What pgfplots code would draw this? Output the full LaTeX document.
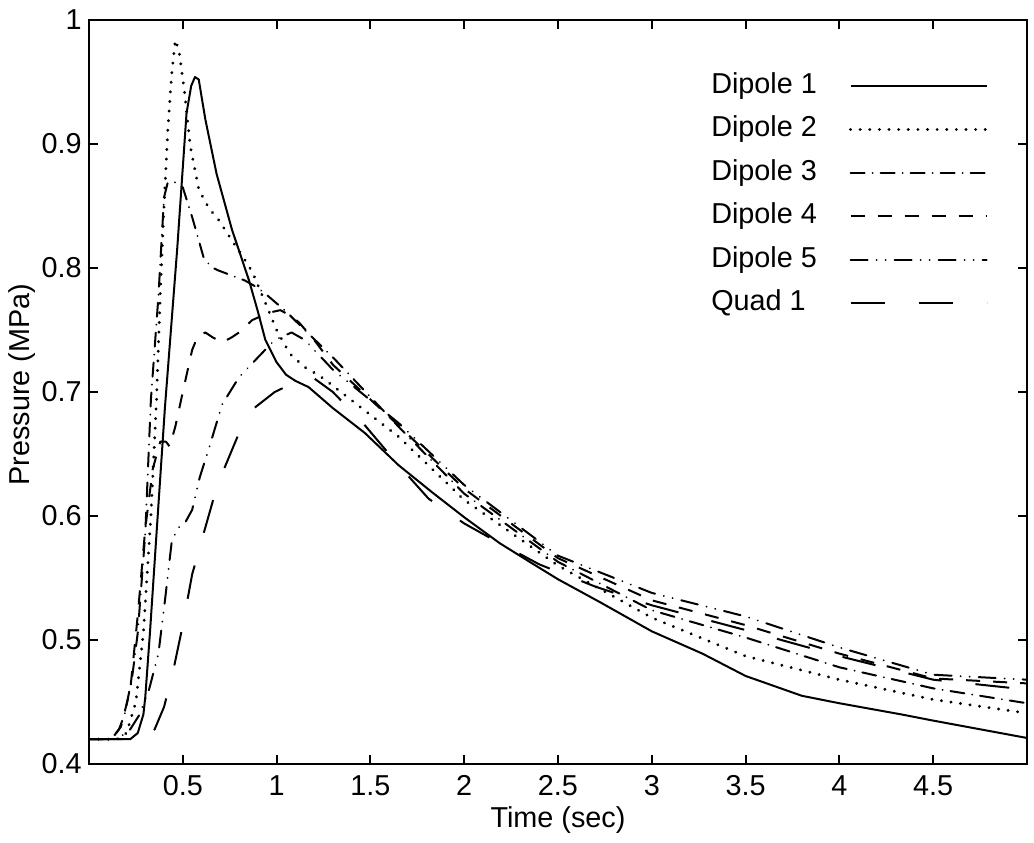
\documentclass[border=0pt]{standalone}
\usepackage{fontspec}
\setmainfont{Liberation Sans}
\usepackage{pgfplots}
\pgfplotsset{compat=1.18}
\begin{document}
\fontsize{14.4}{17}\selectfont
\begin{tikzpicture}
\begin{axis}[
  scale only axis, width=469pt, height=372pt,
  xmin=0, xmax=5, ymin=0.4, ymax=1,
  axis line style={line width=1pt},
  tick align=inside, major tick length=4.5pt,
  tick style={line width=1pt, black},
  tick pos=both,
  xtick={0.5,1,1.5,2,2.5,3,3.5,4,4.5},
  xticklabels={0.5,1,1.5,2,2.5,3,3.5,4,4.5},
  ytick={0.4,0.5,0.6,0.7,0.8,0.9,1},
  yticklabels={0.4,0.5,0.6,0.7,0.8,0.9,1},
  ticklabel style={font=\fontsize{14.4}{17}\selectfont},
  xticklabel style={inner sep=0pt, yshift=-5.5pt},
  yticklabel style={inner sep=0pt, xshift=-3.5pt},
  xlabel={Time (sec)}, ylabel={Pressure (MPa)},
  label style={font=\fontsize{14.4}{17}\selectfont},
  xlabel style={at={(axis description cs:0.5,0)}, anchor=north, inner sep=0pt, yshift=-21pt},
  ylabel style={at={(axis description cs:-0.0565,0.51)}, anchor=south, inner sep=0pt},
  legend style={draw=none, fill=none, at={(axis description cs:0.663,0.93)}, anchor=north west,
    inner sep=0pt, row sep=8.2pt, column sep=16pt, font=\fontsize{14.4}{17}\selectfont,
    nodes={inner sep=0pt, text height=10.5pt, text depth=3pt}},
  legend cell align=left, legend plot pos=right,
  legend image code/.code={\draw[#1] (0pt,0pt) -- (68pt,0pt);},
  every axis plot/.append style={black, line width=1pt, line join=round},
]
\addplot[solid] coordinates {(0,0.42)(0.22,0.42)(0.26,0.425)(0.29,0.44)(0.30,0.454)(0.325,0.506)(0.36,0.586)(0.405,0.688)(0.47,0.815)(0.52,0.925)(0.545,0.947)(0.565,0.954)(0.585,0.952)(0.62,0.92)(0.68,0.876)(0.762,0.831)(0.853,0.79)(0.90,0.765)(0.94,0.742)(1.0,0.724)(1.05,0.714)(1.10,0.709)(1.17,0.704)(1.30,0.687)(1.47,0.667)(1.65,0.641)(1.83,0.619)(2.0,0.599)(2.19,0.578)(2.36,0.562)(2.5,0.549)(2.73,0.53)(3.0,0.507)(3.27,0.489)(3.5,0.471)(3.8,0.455)(4.0,0.449)(4.33,0.44)(4.5,0.435)(4.75,0.428)(5.0,0.421)};
\addlegendentry{Dipole 1}
\addplot[line width=1.6pt, line cap=round, dash pattern=on 0.01pt off 4.8pt] coordinates {(0,0.42)(0.15,0.42)(0.2,0.425)(0.25,0.45)(0.29,0.506)(0.33,0.60)(0.36,0.694)(0.38,0.78)(0.40,0.85)(0.42,0.911)(0.44,0.955)(0.46,0.984)(0.48,0.975)(0.51,0.941)(0.54,0.898)(0.586,0.863)(0.64,0.848)(0.69,0.839)(0.75,0.825)(0.816,0.810)(0.87,0.797)(0.94,0.772)(1.0,0.75)(1.07,0.731)(1.15,0.72)(1.23,0.713)(1.3,0.705)(1.65,0.664)(2.0,0.613)(2.5,0.56)(3.0,0.518)(3.5,0.487)(4.0,0.468)(4.5,0.452)(5.0,0.441)};
\addlegendentry{Dipole 2}
\addplot[line cap=round, dash pattern=on 7pt off 4pt on 0.01pt off 4pt] coordinates {(0,0.42)(0.12,0.42)(0.16,0.428)(0.19,0.44)(0.23,0.47)(0.26,0.506)(0.30,0.586)(0.33,0.694)(0.37,0.777)(0.40,0.857)(0.42,0.869)(0.46,0.869)(0.50,0.865)(0.55,0.841)(0.61,0.809)(0.65,0.801)(0.69,0.798)(0.76,0.794)(0.83,0.79)(0.90,0.784)(0.95,0.778)(1.05,0.765)(1.15,0.750)(1.3,0.728)(1.65,0.672)(2.0,0.618)(2.5,0.563)(3.0,0.524)(3.5,0.502)(4.0,0.478)(4.5,0.461)(5.0,0.449)};
\addlegendentry{Dipole 3}
\addplot[dash pattern=on 7pt off 6.5pt] coordinates {(0,0.42)(0.12,0.42)(0.17,0.43)(0.22,0.46)(0.26,0.52)(0.30,0.59)(0.34,0.638)(0.38,0.66)(0.41,0.66)(0.43,0.656)(0.46,0.672)(0.50,0.70)(0.55,0.734)(0.58,0.745)(0.62,0.748)(0.66,0.744)(0.71,0.740)(0.76,0.744)(0.80,0.748)(0.87,0.758)(0.96,0.764)(1.02,0.766)(1.08,0.761)(1.12,0.756)(1.2,0.742)(1.3,0.722)(1.65,0.673)(2.0,0.622)(2.5,0.566)(3.0,0.532)(3.5,0.512)(4.0,0.489)(4.5,0.469)(5.0,0.465)};
\addlegendentry{Dipole 4}
\addplot[line cap=round, dash pattern=on 8.5pt off 4.5pt on 0.01pt off 4.5pt on 0.01pt off 4.5pt] coordinates {(0,0.42)(0.15,0.42)(0.22,0.428)(0.27,0.44)(0.32,0.46)(0.37,0.489)(0.405,0.532)(0.44,0.578)(0.47,0.59)(0.51,0.594)(0.55,0.605)(0.59,0.631)(0.64,0.655)(0.71,0.69)(0.80,0.712)(0.92,0.731)(0.99,0.742)(1.08,0.748)(1.15,0.742)(1.3,0.718)(1.65,0.675)(2.0,0.625)(2.5,0.568)(3.0,0.538)(3.5,0.519)(4.0,0.494)(4.5,0.472)(5.0,0.468)};
\addlegendentry{Dipole 5}
\addplot[dash pattern=on 17pt off 17pt] coordinates {(0.0,0.42)(0.25,0.42)(0.31,0.422)(0.35,0.428)(0.40,0.446)(0.45,0.476)(0.50,0.512)(0.55,0.553)(0.60,0.58)(0.66,0.612)(0.72,0.638)(0.80,0.667)(0.88,0.687)(0.99,0.70)(1.1,0.708)(1.2,0.711)(1.3,0.700)(1.46,0.675)(1.65,0.641)(1.81,0.614)(2.0,0.594)(2.13,0.583)(2.4,0.561)(2.7,0.543)(3.0,0.528)(3.5,0.508)(4.0,0.487)(4.5,0.468)(5.0,0.460)};
\addlegendentry{Quad 1}
\end{axis}
\pgfresetboundingbox
\path[use as bounding box] (-44.5pt,-39pt) rectangle (472.5pt,382pt);
\end{tikzpicture}
\end{document}
